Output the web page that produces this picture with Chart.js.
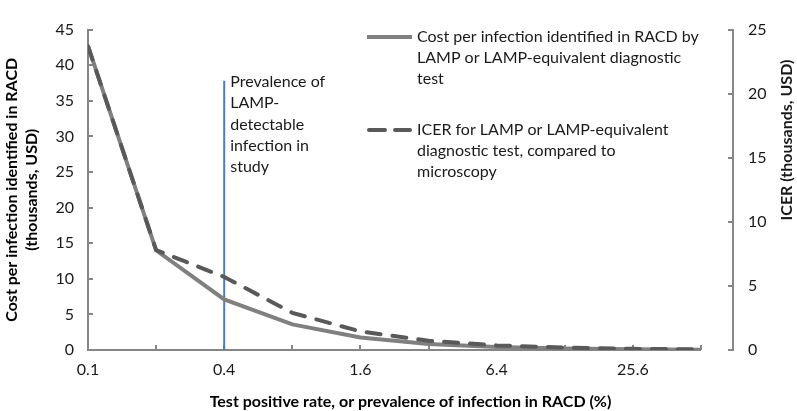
<!DOCTYPE html>
<html>
<head>
<meta charset="utf-8">
<script src="https://cdn.jsdelivr.net/npm/chart.js@4.4.1/dist/chart.umd.min.js"></script>
<style>
    html, body { margin: 0; padding: 0; background: #fff; }
    #wrap { width: 797px; height: 411px; position: relative; }
</style>
</head>
<body>
<div id="wrap"><canvas id="chart" width="797" height="411"></canvas></div>
<script>
// Test positive rate categories (%), doubling each step
const prevalence = ['0.1', '0.2', '0.4', '0.8', '1.6', '3.2', '6.4', '12.8', '25.6', '51.2'];
// Cost per infection identified (thousands USD, left axis)
const costPerInfection = [42.7, 14.0, 7.1, 3.6, 1.75, 0.85, 0.42, 0.21, 0.1, 0.05];
// ICER (thousands USD, right axis)
const icer = [23.7, 7.8, 5.7, 2.9, 1.45, 0.72, 0.36, 0.18, 0.09, 0.05];
// Study prevalence marker: category index and top of the line (left axis units)
const studyIndex = 2;
const studyLineTop = 37.8;
const studyLabel = ['Prevalence of', 'LAMP-', 'detectable', 'infection in', 'study'];

const legendItems = [
    { lines: ['Cost per infection identified in RACD by', 'LAMP or LAMP-equivalent diagnostic', 'test'], color: '#808080', dash: [] },
    { lines: ['ICER for LAMP or LAMP-equivalent', 'diagnostic test, compared to', 'microscopy'], color: '#595959', dash: [16, 10] }
];

const FONT = 'Lato, "Open Sans", sans-serif';
const AXIS_COLOR = '#868686';
const TEXT_COLOR = '#1a1a1a';

const overlayPlugin = {
    id: 'overlay',
    beforeDatasetsDraw(chart) {
        // x axis line only across the category range
        const { ctx, chartArea } = chart;
        const x = chart.scales.x;
        ctx.save();
        ctx.strokeStyle = AXIS_COLOR;
        ctx.lineWidth = 2;
        ctx.beginPath();
        ctx.moveTo(x.getPixelForValue(0) - 1, chartArea.bottom);
        ctx.lineTo(x.getPixelForValue(prevalence.length - 1), chartArea.bottom);
        ctx.stroke();
        ctx.restore();
    },
    afterDraw(chart) {
        const { ctx } = chart;
        const x = chart.scales.x;
        const y = chart.scales.y;
        const y2 = chart.scales.y2;
        ctx.save();

        // study prevalence label
        ctx.fillStyle = TEXT_COLOR;
        ctx.font = '16px ' + FONT;
        ctx.textAlign = 'left';
        ctx.textBaseline = 'middle';
        const lx = x.getPixelForValue(studyIndex) + 6;
        const ly = y.getPixelForValue(studyLineTop) + 1;
        studyLabel.forEach((t, i) => ctx.fillText(t, lx, ly + i * 21.3));

        // legend
        const legX = 367;
        let legY = 37;
        legendItems.forEach(item => {
            const dashed = item.dash.length > 0;
            ctx.strokeStyle = item.color;
            ctx.lineWidth = 4;
            ctx.lineCap = dashed ? 'round' : 'butt';
            ctx.setLineDash(item.dash);
            ctx.beginPath();
            ctx.moveTo(legX + (dashed ? 2 : 0), legY);
            ctx.lineTo(legX + (dashed ? 43 : 45), legY);
            ctx.stroke();
            ctx.setLineDash([]);
            item.lines.forEach((t, i) => ctx.fillText(t, legX + 50, legY + i * 20.7));
            legY += 93;
        });

        // right axis title, reading bottom to top
        ctx.font = 'bold 16px ' + FONT;
        ctx.textAlign = 'center';
        ctx.translate(y2.right - 10, 140);
        ctx.rotate(-Math.PI / 2);
        ctx.fillText('ICER (thousands, USD)', 0, 0);
        ctx.restore();
    }
};

new Chart(document.getElementById('chart'), {
    type: 'line',
    data: {
        datasets: [
            {
                label: 'ICER for LAMP or LAMP-equivalent diagnostic test, compared to microscopy',
                data: icer.map((v, i) => ({ x: i, y: v })),
                yAxisID: 'y2',
                borderColor: '#595959',
                borderWidth: 4,
                borderDash: [14, 12],
                borderCapStyle: 'round',
                pointRadius: 0,
                tension: 0,
                order: 0
            },
            {
                label: 'Cost per infection identified in RACD by LAMP or LAMP-equivalent diagnostic test',
                data: costPerInfection.map((v, i) => ({ x: i, y: v })),
                yAxisID: 'y',
                borderColor: '#808080',
                borderWidth: 4,
                pointRadius: 0,
                tension: 0,
                order: 1
            },
            {
                label: 'Prevalence of LAMP-detectable infection in study',
                data: [{ x: studyIndex, y: 0 }, { x: studyIndex, y: studyLineTop }],
                yAxisID: 'y',
                borderColor: '#4a7ebb',
                borderWidth: 2,
                pointRadius: 0,
                order: 2
            }
        ]
    },
    options: {
        responsive: false,
        animation: false,
        layout: { padding: { top: 0, right: 0, bottom: 0, left: 0 } },
        plugins: {
            legend: { display: false },
            tooltip: { enabled: false }
        },
        scales: {
            x: {
                type: 'linear',
                min: 0,
                max: 9.47,
                afterBuildTicks: scale => {
                    scale.ticks = prevalence.map((_, i) => ({ value: i }));
                },
                afterFit: scale => { scale.height = 61; },
                border: { display: false },
                grid: { drawOnChartArea: false, color: AXIS_COLOR, lineWidth: 2, tickLength: -5 },
                ticks: {
                    autoSkip: false,
                    maxRotation: 0,
                    padding: 15,
                    color: TEXT_COLOR,
                    font: { family: FONT, size: 16 },
                    callback: value => (value % 2 === 0 ? prevalence[value] : '')
                },
                title: {
                    display: true,
                    text: 'Test positive rate, or prevalence of infection in RACD (%)',
                    color: '#000',
                    font: { family: FONT, size: 16, weight: 'bold' },
                    padding: { top: 3, bottom: 0 }
                }
            },
            y: {
                position: 'left',
                min: 0,
                max: 45,
                afterFit: scale => { scale.width = 88; },
                border: { color: AXIS_COLOR, width: 2 },
                grid: { drawOnChartArea: false, color: AXIS_COLOR, lineWidth: 2, tickLength: -5 },
                ticks: {
                    stepSize: 5,
                    padding: 19,
                    color: TEXT_COLOR,
                    font: { family: FONT, size: 16 }
                },
                title: {
                    display: true,
                    text: ['Cost per infection identified in RACD', '(thousands, USD)'],
                    color: '#000',
                    font: { family: FONT, size: 16, weight: 'bold', lineHeight: 1.3 },
                    padding: { top: 1, bottom: 0 }
                }
            },
            y2: {
                position: 'right',
                min: 0,
                max: 25,
                afterFit: scale => { scale.width = 64; },
                border: { color: AXIS_COLOR, width: 2 },
                grid: { drawOnChartArea: false, color: AXIS_COLOR, lineWidth: 2, tickLength: -5 },
                ticks: {
                    stepSize: 5,
                    padding: 20,
                    color: TEXT_COLOR,
                    font: { family: FONT, size: 16 }
                }
            }
        }
    },
    plugins: [overlayPlugin]
});
</script>
</body>
</html>
